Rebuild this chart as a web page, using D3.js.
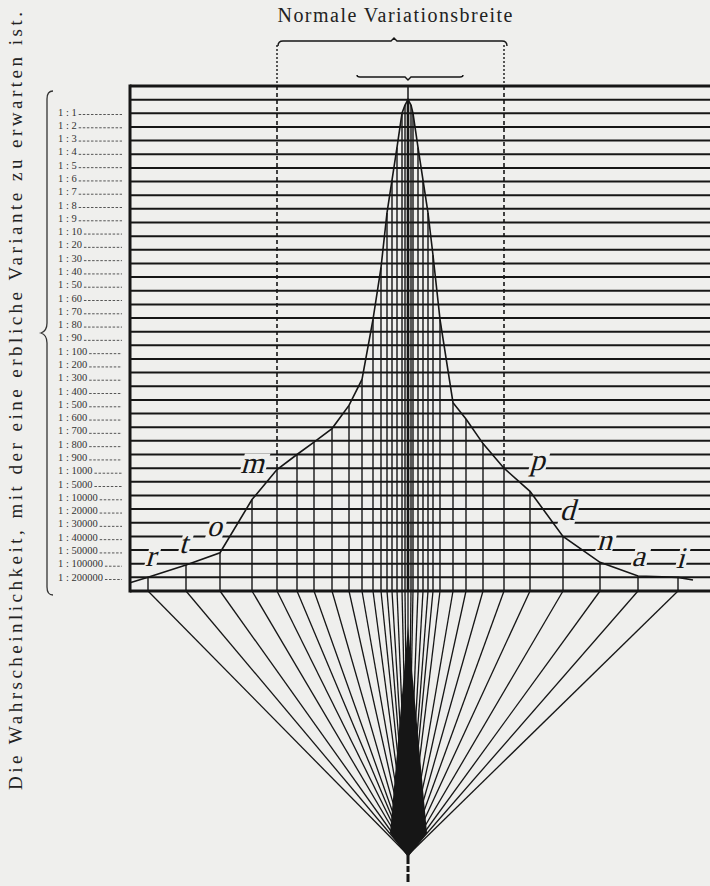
<!DOCTYPE html>
<html>
<head>
<meta charset="utf-8">
<script src="https://cdn.jsdelivr.net/npm/d3@7"></script>
<style>
  html, body { margin: 0; padding: 0; background: #efefed; }
  svg { display: block; }
  svg text { font-family: "Liberation Serif", "Times New Roman", serif; }
</style>
</head>
<body>
<svg id="chart" width="710" height="886"></svg>
<script>
// Probability classes, one horizontal rule each (top to bottom)
const probabilityLabels = [
  "1 : 1", "1 : 2", "1 : 3", "1 : 4", "1 : 5", "1 : 6", "1 : 7", "1 : 8", "1 : 9",
  "1 : 10", "1 : 20", "1 : 30", "1 : 40", "1 : 50", "1 : 60", "1 : 70", "1 : 80", "1 : 90",
  "1 : 100", "1 : 200", "1 : 300", "1 : 400", "1 : 500", "1 : 600", "1 : 700", "1 : 800", "1 : 900",
  "1 : 1000", "1 : 5000", "1 : 10000", "1 : 20000", "1 : 30000", "1 : 40000", "1 : 50000",
  "1 : 100000", "1 : 200000"
];

// Variants: offset from the mean and the class row (1 = rule carrying the peak) reached
const variantOffsets = [
  -260, -222, -188, -156, -131, -111, -94, -76, -59, -46, -35, -27, -21, -16, -11, -6, -3,
  0,
  3, 5, 10, 15, 20, 25, 32, 45, 58, 75, 96, 122, 155, 192, 230, 270
];
const variantRows = [
  36.0, 35.1, 34.2, 30.3, 28.1, 27.0, 26.1, 25.1, 23.4, 21.5, 17.1, 13.3, 9.3, 6.9, 4.5, 2.0, 1.4,
  1.0,
  1.4, 2.0, 4.5, 6.9, 9.3, 12.4, 17.1, 23.2, 24.4, 26.2, 28.0, 29.7, 33.0, 34.9, 35.9, 36.0
];
// Where the envelope leaves the frame on either side
const envelopeEndOffsets = [-278, 285];
const envelopeEndRows = [36.4, 36.2];

// Letters set along the envelope
const curveLetters = ["r", "t", "o", "m", "p", "d", "n", "a", "i"];
const letterOffsets = [-258, -225, -194, -156, 129, 159, 196, 230, 272];
const letterRows = [35.2, 34.2, 33.0, 28.35, 28.1, 31.8, 34.0, 35.2, 35.3];

// Limits of the normal range of variation (offsets of the dashed variants)
const normalRange = [-131, 96];

const ink = "#161616";
const paper = "#efefed";
const svg = d3.select("#chart");

const frame = { left: 130, right: 710, top: 86, bottom: 591 };
const x = d3.scaleLinear().domain([-278, 302]).range([frame.left, frame.right]);
const row = d3.scaleLinear().domain([0, probabilityLabels.length + 1]).range([frame.top, frame.bottom]);
const labelY = d3.scalePoint().domain(probabilityLabels).range([112, 577]);
const apex = { x: x(0), y: 855 };

const variants = variantOffsets.map((o, i) => ({ o, r: variantRows[i] }));

// ---- fan below the frame -------------------------------------------------
const fan = svg.append("g");
fan.selectAll("line").data(variants).join("line")
  .attr("x1", d => x(d.o)).attr("y1", frame.bottom)
  .attr("x2", apex.x).attr("y2", apex.y)
  .attr("stroke", ink).attr("stroke-width", 1.3);
fan.append("path")
  .attr("d", d3.line()([[apex.x, 626], [apex.x - 18, 833], [apex.x, 857], [apex.x + 19, 833]]) + "Z")
  .attr("fill", ink);
fan.append("line")
  .attr("x1", apex.x).attr("x2", apex.x).attr("y1", 855).attr("y2", 886)
  .attr("stroke", ink).attr("stroke-width", 3).attr("stroke-dasharray", "9,2,6,2,8");

// ---- horizontal class rules ----------------------------------------------
const grid = svg.append("g");
grid.selectAll("line.h").data(probabilityLabels).join("line").attr("class", "h")
  .attr("x1", frame.left).attr("x2", frame.right)
  .attr("y1", (d, i) => row(i + 1)).attr("y2", (d, i) => row(i + 1))
  .attr("stroke", ink).attr("stroke-width", 2);

// ---- variant verticals ----------------------------------------------------
grid.selectAll("line.v").data(variants).join("line").attr("class", "v")
  .attr("x1", d => x(d.o)).attr("x2", d => x(d.o))
  .attr("y1", d => row(d.r)).attr("y2", frame.bottom)
  .attr("stroke", ink).attr("stroke-width", d => d.o === 0 ? 2.6 : 1.4);
// spike from the top rule down to the peak
grid.append("line")
  .attr("x1", x(0)).attr("x2", x(0)).attr("y1", frame.top).attr("y2", row(1))
  .attr("stroke", ink).attr("stroke-width", 1.5);

// ---- envelope -------------------------------------------------------------
const envPts = [[envelopeEndOffsets[0], envelopeEndRows[0]]]
  .concat(variants.map(d => [d.o, d.r]))
  .concat([[envelopeEndOffsets[1], envelopeEndRows[1]]]);
grid.append("path")
  .attr("d", d3.line().x(d => x(d[0])).y(d => row(d[1])).curve(d3.curveLinear)(envPts))
  .attr("fill", "none").attr("stroke", ink).attr("stroke-width", 1.6);

// ---- dashed limits of normal variation ------------------------------------
const rangeG = svg.append("g");
normalRange.forEach(o => {
  const v = variants.find(d => d.o === o);
  rangeG.append("line")
    .attr("x1", x(o)).attr("x2", x(o)).attr("y1", 45).attr("y2", frame.top)
    .attr("stroke", ink).attr("stroke-width", 1.4).attr("stroke-dasharray", "2,2");
  rangeG.append("line")
    .attr("x1", x(o)).attr("x2", x(o)).attr("y1", frame.top).attr("y2", row(v.r))
    .attr("stroke", ink).attr("stroke-width", 1.6).attr("stroke-dasharray", "4,3");
});

// ---- frame ----------------------------------------------------------------
const fr = svg.append("g").attr("stroke", ink).attr("stroke-width", 3);
fr.append("line").attr("x1", frame.left).attr("x2", frame.right).attr("y1", frame.top).attr("y2", frame.top);
fr.append("line").attr("x1", frame.left).attr("x2", frame.right).attr("y1", frame.bottom).attr("y2", frame.bottom);
fr.append("line").attr("x1", frame.left).attr("x2", frame.left).attr("y1", frame.top - 1.5).attr("y2", frame.bottom + 1.5);

// ---- letters on the envelope (slanted roman) -------------------------------
const lettersG = svg.append("g");
curveLetters.forEach((ch, i) => {
  const g = lettersG.append("g")
    .attr("transform", `translate(${x(letterOffsets[i])},${row(letterRows[i])}) skewX(-16)`);
  const t = g.append("text")
    .attr("x", 0).attr("y", 0)
    .attr("text-anchor", "middle")
    .style("font-size", "30px")
    .attr("fill", ink).text(ch);
  const b = t.node().getBBox();
  g.insert("rect", "text")
    .attr("x", b.x - 1).attr("y", b.y + 7).attr("width", b.width + 2).attr("height", b.height - 9)
    .attr("fill", paper);
});

// ---- brackets above --------------------------------------------------------
const topG = svg.append("g").attr("fill", "none").attr("stroke", ink).attr("stroke-width", 1.4);
const bl = x(normalRange[0]) + 1, br = x(normalRange[1]) + 3, bc = 394;
topG.append("path").attr("d",
  `M${bl},46 Q${bl},41 ${bl + 5},41 L${bc - 3},41 L${bc},38 L${bc + 3},41 L${br - 5},41 Q${br},41 ${br},46`);
topG.append("path").attr("d",
  `M357,75 Q357,77 360,77 L${x(0) - 3},77 L${x(0)},80 L${x(0) + 3},77 L460,77 Q463,77 463,75`);

svg.append("text")
  .attr("x", 395).attr("y", 22).attr("text-anchor", "middle")
  .style("font-size", "20px").attr("fill", "#222")
  .attr("textLength", 235).attr("lengthAdjust", "spacing")
  .text("Normale Variationsbreite");

// ---- probability labels on the left ---------------------------------------
const labG = svg.append("g");
probabilityLabels.forEach(lab => {
  const t = labG.append("text")
    .attr("x", 58).attr("y", labelY(lab) + 3.5)
    .style("font-size", "10.5px").attr("fill", "#333").text(lab);
  const w = t.node().getComputedTextLength();
  labG.append("line")
    .attr("x1", 58 + w + 2).attr("x2", 122)
    .attr("y1", labelY(lab) + 2.5).attr("y2", labelY(lab) + 2.5)
    .attr("stroke", "#444").attr("stroke-width", 0.9).attr("stroke-dasharray", "2.5,1.6");
});

// brace grouping the labels
svg.append("path")
  .attr("d", "M53,91 Q47,91 47,99 L47,323 Q47,331 41,333 Q47,335 47,343 L47,587 Q47,595 53,595")
  .attr("fill", "none").attr("stroke", "#333").attr("stroke-width", 1.3);

// side title
svg.append("text")
  .attr("transform", "translate(22,401) rotate(-90)")
  .attr("text-anchor", "middle")
  .style("font-size", "19px").attr("fill", "#222")
  .attr("textLength", 778).attr("lengthAdjust", "spacing")
  .text("Die Wahrscheinlichkeit, mit der eine erbliche Variante zu erwarten ist.");
</script>
</body>
</html>
